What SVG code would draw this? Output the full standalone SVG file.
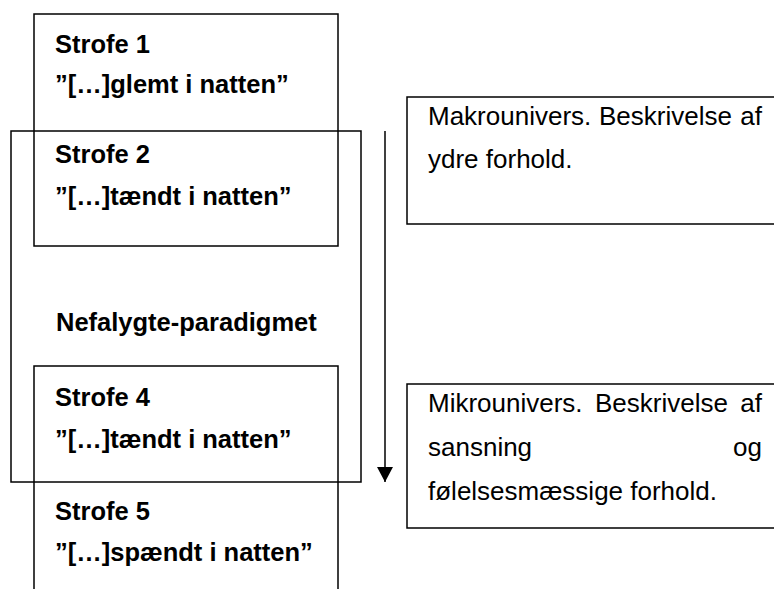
<svg xmlns="http://www.w3.org/2000/svg" width="774" height="589" viewBox="0 0 774 589">
<style>
.box{fill:none;stroke:#000;stroke-width:1.5}
.b{font-family:"Liberation Sans",Arial,sans-serif;font-weight:bold;font-size:25.5px;fill:#000}
.r{font-family:"Liberation Sans",Arial,sans-serif;font-size:26px;fill:#000}
</style>
<defs>
<marker id="ah" markerWidth="16" markerHeight="16" refX="15" refY="8" orient="auto" markerUnits="userSpaceOnUse" viewBox="0 0 16 16">
<path d="M0,0 L15,8 L0,16 Z" fill="#000"/>
</marker>
</defs>
<rect width="774" height="589" fill="#fff"/>
<g id="paradigm">
<rect class="box" x="11" y="131" width="350" height="351"/>
<text class="b" x="56" y="331">Nefalygte-paradigmet</text>
</g>
<g id="strofe12">
<rect class="box" x="34" y="14" width="304" height="232"/>
<text class="b" x="55" y="53">Strofe 1</text>
<text class="b" x="55" y="93">”[…]glemt i natten”</text>
<text class="b" x="55" y="163">Strofe 2</text>
<text class="b" x="55" y="205">”[…]tændt i natten”</text>
</g>
<g id="strofe45">
<path class="box" d="M34,600 V366 H338 V600"/>
<text class="b" x="55" y="406">Strofe 4</text>
<text class="b" x="55" y="448">”[…]tændt i natten”</text>
<text class="b" x="55" y="520">Strofe 5</text>
<text class="b" x="55" y="561">”[…]spændt i natten”</text>
</g>
<g id="makro">
<path class="box" d="M780,97 H407 V224 H780"/>
<text class="r" x="428" y="125">Makrounivers.</text>
<text class="r" x="599" y="125">Beskrivelse</text>
<text class="r" x="762" y="125" text-anchor="end">af</text>
<text class="r" x="428" y="168">ydre forhold.</text>
</g>
<g id="mikro">
<path class="box" d="M780,384 H407 V528 H780"/>
<text class="r" x="428" y="412">Mikrounivers.</text>
<text class="r" x="595" y="412">Beskrivelse</text>
<text class="r" x="762" y="412" text-anchor="end">af</text>
<text class="r" x="428" y="456">sansning</text>
<text class="r" x="762" y="456" text-anchor="end">og</text>
<text class="r" x="428" y="500">følelsesmæssige forhold.</text>
</g>
<g id="connectors">
<line x1="385" y1="131" x2="385" y2="482" stroke="#000" stroke-width="1.5" marker-end="url(#ah)"/>
</g>
</svg>
